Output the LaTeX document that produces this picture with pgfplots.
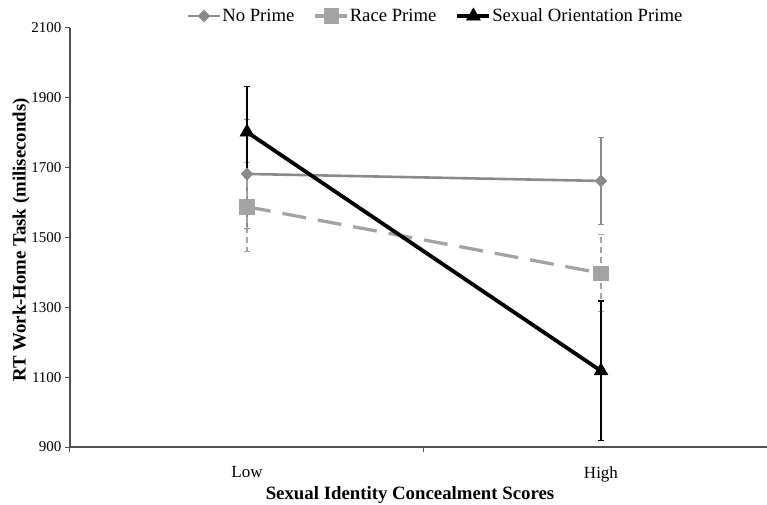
\documentclass[border=0pt]{standalone}
\usepackage{pgfplots}
\pgfplotsset{compat=1.18}
\usepackage{fontspec}
\setmainfont{Liberation Serif}
\definecolor{noprime}{HTML}{8A8A8A}
\definecolor{raceprime}{HTML}{A3A3A3}
\definecolor{axisgray}{HTML}{505050}
\pgfplotsset{
  solidlegend/.style={legend image code/.code={\draw[mark repeat=2,mark phase=2,##1,solid] plot coordinates {(0bp,0bp) (16bp,0bp) (32bp,0bp)};}},
}
\begin{document}
\begin{tikzpicture}
\begin{axis}[
  scale only axis,
  width=697bp, height=419bp,
  xmin=-0.5, xmax=1.469,
  ymin=900, ymax=2100,
  ytick={900,1100,1300,1500,1700,1900,2100},
  axis lines*=left,
  axis line style={axisgray, line width=1.1bp},
  tick style={axisgray, line width=1bp},
  tick align=outside,
  major tick length=5bp,
  xtick={-0.5,0.5,1.5},
  xticklabels={,,},
  extra x ticks={0,1},
  extra x tick labels={Low,High},
  extra x tick style={major tick length=0pt},
  /pgf/number format/assume math mode=true,
  /pgf/number format/1000 sep={},
  yticklabel style={font=\fontsize{15bp}{17bp}\selectfont},
  xticklabel style={font=\fontsize{17bp}{20bp}\selectfont, yshift=-16bp},
  xlabel={Sexual Identity Concealment Scores},
  ylabel={RT Work-Home Task (miliseconds)},
  xlabel style={at={(axis description cs:0.4878,-0.1146)}, anchor=center, font=\bfseries\fontsize{18.8bp}{22bp}\selectfont},
  ylabel style={at={(axis description cs:-0.0703,0.494)}, anchor=center, font=\bfseries\fontsize{18.8bp}{22bp}\selectfont},
  legend columns=3,
  legend style={at={(axis description cs:0.5237,1.0286)}, anchor=center, draw=none, fill=none,
    font=\fontsize{18.7bp}{22bp}\selectfont,
    /tikz/every even column/.append style={column sep=18bp},
    nodes={inner sep=1bp}},
  legend image code/.code={\draw[mark repeat=2,mark phase=2,#1] plot coordinates {(0bp,0bp) (16bp,0bp) (32bp,0bp)};},
]
\addplot[color=noprime, line width=2.6bp, mark=diamond*, mark size=6bp,
  mark options={solid, xscale=1.3, fill=noprime, draw=noprime, line width=0.5bp},
  error bars/.cd, y dir=both, y explicit,
  error bar style={line width=1.1bp, noprime, solid},
  error mark=-,
  error mark options={rotate=90, line width=1.1bp, noprime, mark size=2.8bp, solid}]
  table[x=x, y=y, y error=e] {
x y e
0 1682 155
1 1662 125
};
\addlegendentry{No Prime}
\addplot[color=raceprime, line width=3.3bp, dash pattern=on 24bp off 12bp, mark=square*, mark size=7.3bp,
  mark options={solid, fill=raceprime, draw=raceprime, line width=0.5bp},
  solidlegend,
  error bars/.cd, y dir=both, y explicit,
  error bar style={line width=1.1bp, raceprime, dash pattern=on 6bp off 4bp},
  error mark=-,
  error mark options={rotate=90, line width=1.1bp, raceprime, mark size=2.8bp, solid}]
  table[x=x, y=y, y error=e] {
x y e
0 1588 127
1 1398 110
};
\addlegendentry{Race Prime}
\addplot[color=black, line width=3.8bp, mark=triangle*, mark size=8bp,
  mark options={solid, fill=black, line width=0.5bp},
  error bars/.cd, y dir=both, y explicit,
  error bar style={line width=1.2bp, black, solid},
  error mark=-,
  error mark options={rotate=90, line width=1.2bp, black, mark size=2.8bp, solid}]
  table[x=x, y=y, y error=e] {
x y e
0 1802 130
1 1118 200
};
\addlegendentry{Sexual Orientation Prime}
\end{axis}
\pgfresetboundingbox
\useasboundingbox (-70bp,-58bp) rectangle (697bp,447bp);
\end{tikzpicture}
\end{document}
